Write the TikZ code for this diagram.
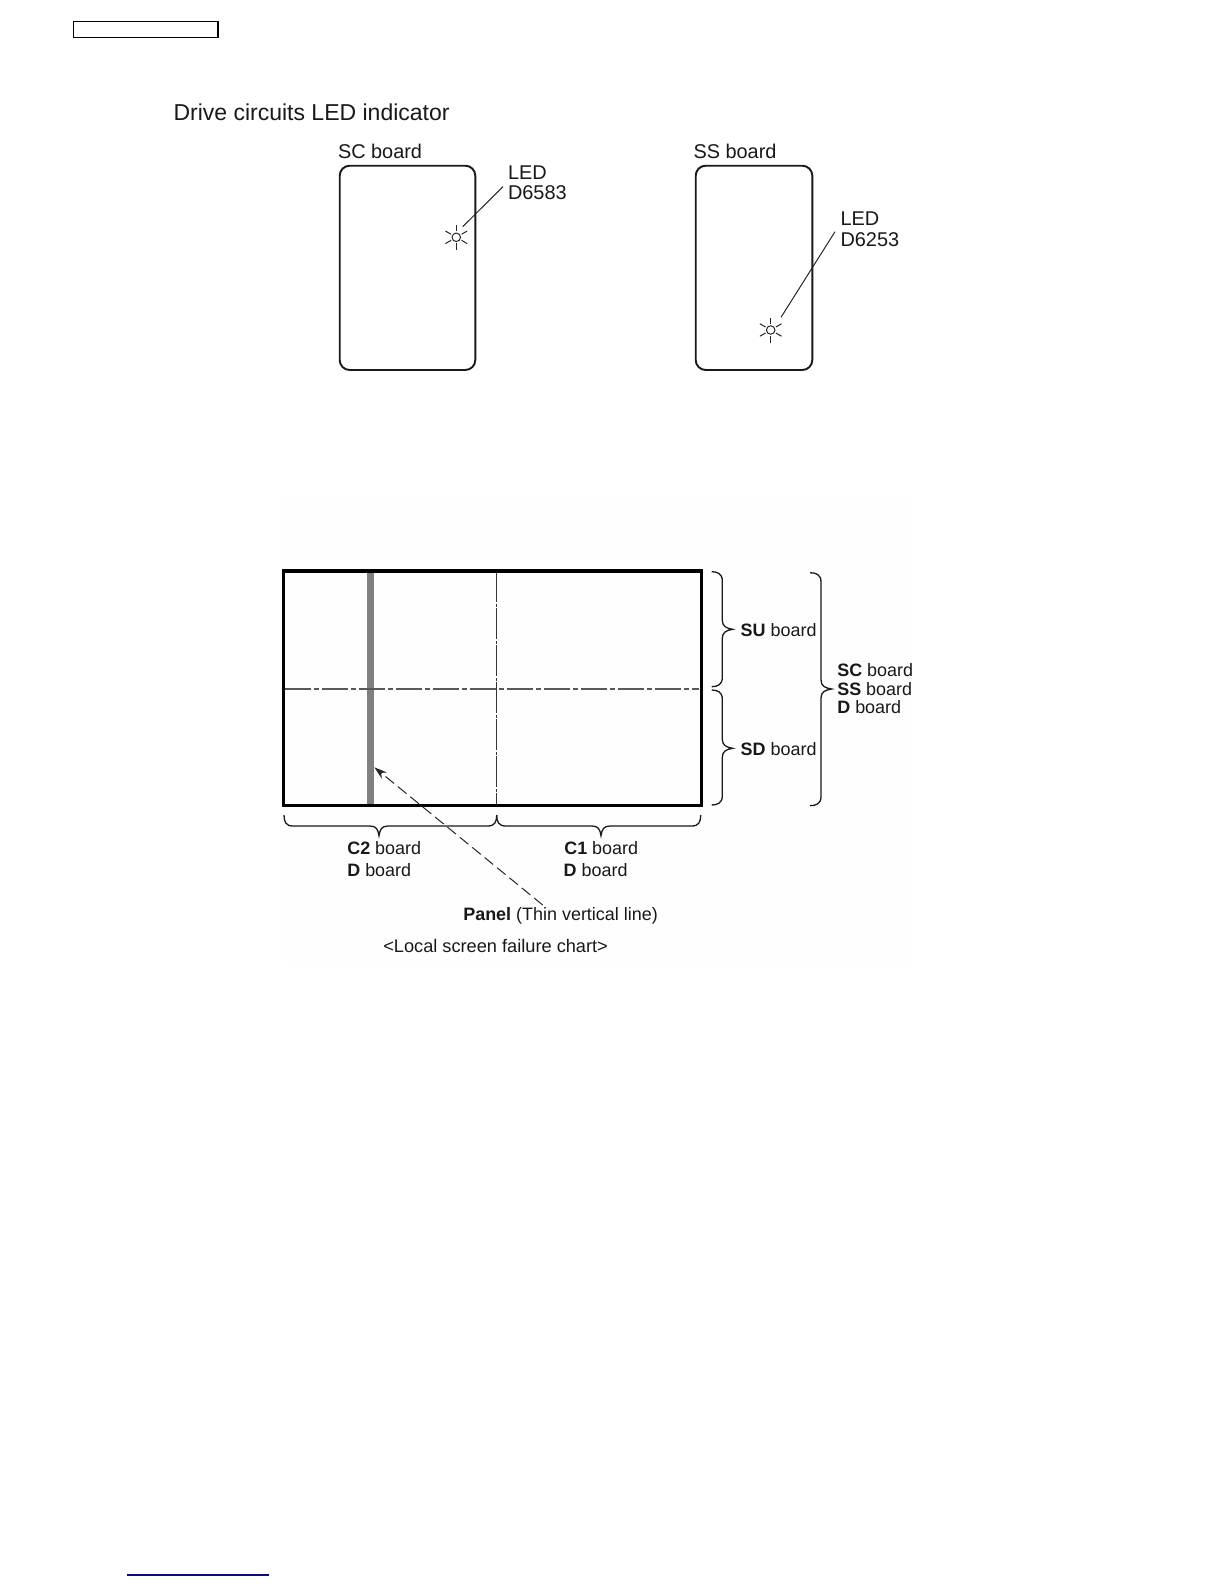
\documentclass[tikz,border=0pt]{standalone}
\usepackage{fontspec}
\setmainfont{Liberation Sans}
\usetikzlibrary{arrows.meta,calc}
\newcommand{\fsz}[1]{\fontsize{#1}{#1}\selectfont}
% vertical brace opening left: x-start, x-spine, x-tip, y-top, y-mid, y-bottom
\newcommand{\vbr}[6]{\draw[bracestyle] (#1,#4) .. controls (#2-5,#4) and (#2,#4+2) .. (#2,#4+9) -- (#2,#5-9) .. controls (#2,#5-3) and (#2+4,#5-1) .. (#3,#5) .. controls (#2+4,#5+1) and (#2,#5+3) .. (#2,#5+9) -- (#2,#6-9) .. controls (#2,#6-2) and (#2-5,#6) .. (#1,#6);}
% horizontal brace opening up: y-start, y-spine, y-tip, x-left, x-mid, x-right
\newcommand{\hbr}[6]{\draw[bracestyle] (#4,#1) .. controls (#4,#2-4) and (#4+2,#2) .. (#4+9,#2) -- (#5-9,#2) .. controls (#5-3,#2) and (#5-1,#2+3) .. (#5,#3) .. controls (#5+1,#2+3) and (#5+3,#2) .. (#5+9,#2) -- (#6-9,#2) .. controls (#6-2,#2) and (#6,#2-4) .. (#6,#1);}
% LED symbol
\newcommand{\ledsym}[3]{%
\node[ledcore] (#1) at (#2,#3) {};
\foreach \a in {30,90,150,210,270,330}
  \draw[leadline] ($(#2,#3)+(\a:6)$) -- ($(#2,#3)+(\a:12.5)$);}
\tikzset{
  bracestyle/.style={line width=1.3pt,black!90},
  leadline/.style={line width=1pt,black!85},
  ledcore/.style={circle,draw=black!85,line width=1pt,minimum size=8.5pt,inner sep=0pt},
  boardbox/.style={draw=black!90,line width=1.9pt,rounded corners=10pt},
  lbl/.style={anchor=base west,inner sep=0pt,outer sep=0pt,text=black!90},
  big/.style={lbl,font=\fsz{19.9}},
  small/.style={lbl,font=\fsz{17.95}},
  centreline/.style={black!65,line width=1.2pt},
}
\begin{document}
\begin{tikzpicture}[x=1pt,y=-1pt]
\useasboundingbox (0,0) rectangle (1224,1584);
\fill[white] (0,0) rectangle (1224,1584);
\fill[black!0.5] (285,495) rectangle (912,962);
% header box and footer line
\draw[line width=1.5pt,black] (73.3,21.7) rectangle (218,37.3);
\draw[line width=1.5pt,color={rgb,255:red,10;green,10;blue,130}] (127,1575) -- (269,1575);
% title
\node[lbl,font=\fsz{23}] (title) at (173.5,120.7) {Drive circuits LED indicator};
% SC board
\node[big] (sclabel) at (338,158) {SC board};
\draw[boardbox] (339.7,165.7) rectangle (475.3,370);
\node[big] (led1a) at (508,179) {LED};
\node[big] (led1b) at (508,199.3) {D6583};
\ledsym{led1}{456.3}{237.3}
\coordinate (l1s) at (503,186.7);
\coordinate (l1e) at (462.7,226.7);
\draw[leadline] (l1s) -- (l1e);
% SS board
\node[big] (sslabel) at (693.5,158) {SS board};
\draw[boardbox] (695.7,165.7) rectangle (812.3,370);
\node[big] (led2a) at (840.5,225) {LED};
\node[big] (led2b) at (840.5,246) {D6253};
\ledsym{led2}{770.7}{330}
\coordinate (l2s) at (835,231.7);
\coordinate (l2e) at (781,317.3);
\draw[leadline] (l2s) -- (l2e);
% panel
\fill[black!50] (367,571) rectangle (373.5,805);
\draw[centreline,dash pattern=on 26pt off 3pt on 5pt off 3pt] (285,689) -- (699,689);
\draw[centreline,black!80,line width=1pt,dash pattern=on 31pt off 1.5pt on 3pt off 1.5pt] (496.7,571) -- (496.7,805);
\draw[line width=3.2pt,black] (283.5,571) rectangle (701.5,805.7);
% braces
\vbr{711.7}{722.3}{732.7}{571.7}{629.3}{686.7}
\vbr{711.7}{722.3}{732.7}{690}{748.3}{805}
\vbr{810}{821}{831.7}{572.7}{689}{805.7}
\hbr{815}{826}{835.7}{284}{379}{496.7}
\hbr{815}{826}{835.7}{496.7}{601}{700.7}
% board labels
\node[small] (su) at (740.7,636) {\textbf{SU} board};
\node[small] (sd) at (740.7,755) {\textbf{SD} board};
\node[small] (sc) at (837.3,676.7) {\textbf{SC} board};
\node[small] (ss) at (837.3,695) {\textbf{SS} board};
\node[small] (dr) at (837.3,713.3) {\textbf{D} board};
\node[small] (c2) at (347.3,854.3) {\textbf{C2} board};
\node[small] (d2) at (347.3,876.2) {\textbf{D} board};
\node[small] (c1) at (564.3,854.3) {\textbf{C1} board};
\node[small] (d1) at (563.7,876.2) {\textbf{D} board};
\node[small] (panel) at (463.3,920) {\textbf{Panel} (Thin vertical line)};
\node[small,font=\fsz{18.2}] (chart) at (383.3,952.8) {<Local screen failure chart>};
% panel arrow
\coordinate (ps) at (542.7,905);
\coordinate (pe) at (374.3,767.3);
\draw[leadline,dash pattern=on 11pt off 5pt,-{Stealth[length=13pt,width=8pt]}] (ps) -- (pe);
\end{tikzpicture}
\end{document}
